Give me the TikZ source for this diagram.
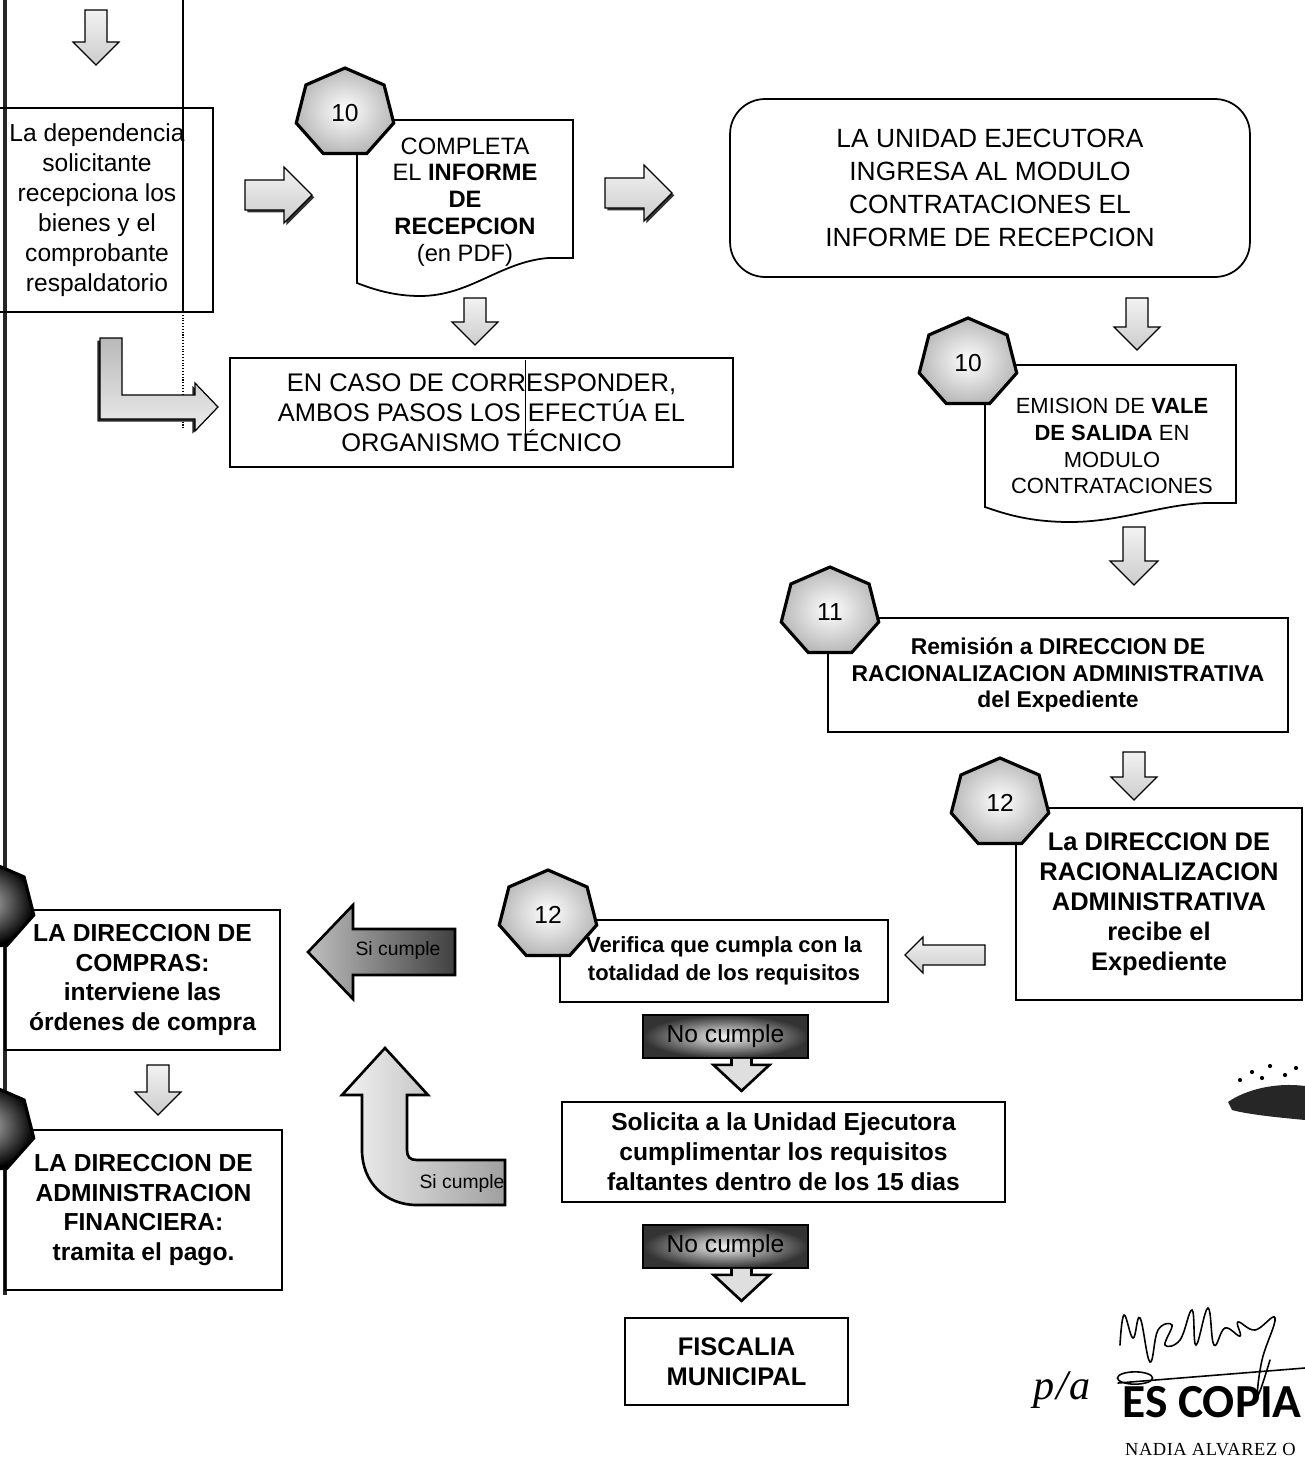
\documentclass[tikz,border=0pt]{standalone}
\usepackage{fontspec}
\setmainfont{Liberation Sans}
\newfontfamily\stampfont{Carlito}
\newfontfamily\namefont[LetterSpace=3]{Liberation Serif}
\usetikzlibrary{shadows}
% block arrow: [style]{x}{y}{angle}{length}{shaft half}{head half}
\newcommand{\barrow}[7][]{\draw[blockarrow,#1,shift={(#2,#3)},rotate=#4]
  (-#6,0) -- (#6,0) -- (#6,{#5-#7}) -- (#7,{#5-#7}) -- (0,#5)
  -- (-#7,{#5-#7}) -- (-#6,{#5-#7}) -- cycle;}
% heptagon with step number
\newcommand{\hepta}[5][heptfill]{\draw[#1] plot[samples at={0,...,6}]
  ({#3+50*cos(90+\x*360/7)},{#4-45*sin(90+\x*360/7)}) -- cycle;
  \node[numtext] (#2) at (#3,#4) {#5};}
\begin{document}
\begin{tikzpicture}[x=0.02cm,y=-0.02cm,
  box/.style={draw,line width=1pt,align=center,inner sep=0pt,font=\fontsize{14}{17}\selectfont},
  bbox/.style={box,font=\bfseries\fontsize{14}{17}\selectfont},
  doctext/.style={align=center,inner sep=0pt,font=\fontsize{13.5}{15.3}\selectfont},
  docline/.style={line width=1pt,fill=white},
  numtext/.style={inner sep=0pt,font=\fontsize{14}{14}\selectfont},
  heptfill/.style={line width=1.8pt,inner color=white,outer color=gray!55},
  hept dark/.style={line width=1.8pt,inner color=gray!55,outer color=black},
  blockarrow/.style={draw,line width=0.7pt,top color=gray!10,bottom color=gray!40},
  shadowarrow/.style={drop shadow={shadow xshift=1.3pt,shadow yshift=-1.3pt,opacity=1,fill=black!80}},
  darkarrow/.style={draw,line width=1.5pt,left color=gray!50,middle color=gray!8,right color=black!75},
  nocumple/.style={draw,line width=1pt,inner color=gray!10,outer color=black!80,
    font=\fontsize{14}{14}\selectfont,minimum width=3.3cm,minimum height=0.86cm},
  nohead/.style={draw,line width=1.5pt,fill=gray!25},
  sicumple/.style={inner sep=0pt,font=\fontsize{11}{11}\selectfont},
  sig/.style={line width=0.9pt,line cap=round}]
\useasboundingbox (0,0) rectangle (1305,1465);
\fill[white] (0,0) rectangle (1305,1465);

% page border and old column line
\draw[line width=2pt,black!85] (5,0) -- (5,1295);
\draw[line width=0.6pt] (183,0) -- (183,312);
\draw[line width=0.6pt,densely dotted] (183,312) -- (183,430);

% top row
\barrow{96}{10}{0}{55}{11}{23}
\node[box,minimum width=4.64cm,minimum height=4.08cm] (recibe) at (97,210) {La dependencia\\solicitante\\recepciona los\\bienes y el\\comprobante\\respaldatorio};
\barrow[shadowarrow]{245}{195}{90}{67}{15}{28}
\draw[docline] (357,120) -- (357,283) .. controls (375,290) and (395,296) .. (420,296)
  .. controls (470,296) and (500,262) .. (548,258) -- (573,258) -- (573,120) -- cycle;
\node[doctext] (informe) at (465,202) {COMPLETA\\EL \textbf{INFORME}\\\textbf{DE}\\\textbf{RECEPCION}\\(en PDF)};
\hepta{n10a}{345}{113}{10}
\barrow[shadowarrow]{605}{193}{90}{67}{15}{28}
\node[box,rounded corners=0.7cm,minimum width=10.4cm,minimum height=3.56cm,font=\fontsize{15}{18.7}\selectfont] (unidad) at (990,188) {LA UNIDAD EJECUTORA\\INGRESA AL MODULO\\CONTRATACIONES EL\\INFORME DE RECEPCION};
\barrow{475}{298}{0}{47}{11}{23}

% L arrow to the technical body
\draw[blockarrow,top color=gray!55,bottom color=gray!15,drop shadow={shadow xshift=-1.5pt,shadow yshift=-1.5pt,opacity=1,fill=black!85}]
  (100,338) -- (122,338) -- (122,395) -- (195,395) -- (195,383) -- (218,407) -- (195,431) -- (195,419) -- (100,419) -- cycle;
\node[box,minimum width=10.06cm,minimum height=2.18cm,font=\fontsize{14.5}{17}\selectfont] (caso) at (481.5,412.5) {EN CASO DE CORRESPONDER,\\AMBOS PASOS LOS EFECTÚA EL\\ORGANISMO TÉCNICO};
\draw[line width=0.5pt] (525,360) -- (525,440);

% right column
\barrow{1137}{298}{0}{52}{11}{23}
\draw[docline] (985,365) -- (985,507) .. controls (1005,514) and (1030,522) .. (1070,522)
  .. controls (1120,522) and (1160,505) .. (1205,503) -- (1236,503) -- (1236,365) -- cycle;
\node[doctext,font=\fontsize{12.5}{15.3}\selectfont] (vale) at (1112,446) {EMISION DE \textbf{VALE}\\\textbf{DE SALIDA} EN\\MODULO\\CONTRATACIONES};
\hepta{n10b}{968}{363}{10}
\barrow{1134}{527}{0}{58}{11}{24}
\node[bbox,minimum width=9.2cm,minimum height=2.28cm,font=\bfseries\fontsize{13}{15.3}\selectfont] (remision) at (1058,675) {Remisión a DIRECCION DE\\RACIONALIZACION ADMINISTRATIVA\\del Expediente};
\hepta{n11}{830}{612}{11}
\barrow{1134}{752}{0}{48}{11}{23}
\node[bbox,minimum width=5.72cm,minimum height=3.84cm,font=\bfseries\fontsize{14.5}{17}\selectfont] (racional) at (1159,904) {La DIRECCION DE\\RACIONALIZACION\\ADMINISTRATIVA\\recibe el\\Expediente};
\hepta{n12a}{1000}{803}{12}

% verification
\barrow{985}{955}{-90}{80}{10}{18}
\node[bbox,minimum width=6.56cm,minimum height=1.64cm,font=\bfseries\fontsize{12.5}{15.8}\selectfont] (verifica) at (724,961) {Verifica que cumpla con la\\totalidad de los requisitos};
\hepta{n12b}{548}{915}{12}
\draw[darkarrow] (308,952) -- (353,905) -- (353,929) -- (455,929) -- (455,975) -- (353,975) -- (353,999) -- cycle;
\node[sicumple] (si1) at (398,950) {Si cumple};

% left column bottom
\node[bbox,minimum width=5.5cm,minimum height=2.8cm] (compras) at (142.5,980) {LA DIRECCION DE\\COMPRAS:\\interviene las\\órdenes de compra};
\barrow{158}{1065}{0}{50}{11}{23}
\node[bbox,minimum width=5.54cm,minimum height=3.2cm] (pago) at (143.5,1210) {LA DIRECCION DE\\ADMINISTRACION\\FINANCIERA:\\tramita el pago.};
\begin{scope}
\clip (0,0) rectangle (1305,1465);
\hepta[hept dark]{n13}{-15}{905}{}
\hepta[hept dark]{n14}{-15}{1128}{}
\end{scope}

% U-turn back
\draw[darkarrow,left color=gray!10,middle color=gray!20,right color=gray!75]
  (385,1048) -- (428,1095) -- (407,1095) -- (407,1150) .. controls (407,1157) and (410,1160) .. (417,1160)
  -- (505,1160) -- (505,1205) -- (417,1205) .. controls (385,1205) and (362,1182) .. (362,1150)
  -- (362,1095) -- (342,1095) -- cycle;
\node[sicumple] (si2) at (462,1183) {Si cumple};

% not compliant branch
\node[nocumple] (no1) at (725.5,1036.5) {No cumple};
\draw[nohead,shift={(no1.south)}] (6,0) -- (6,6) -- (-12,6) -- (16,32) -- (44,6) -- (26,6) -- (26,0);
\node[bbox,minimum width=8.86cm,minimum height=2cm] (solicita) at (783.5,1152) {Solicita a la Unidad Ejecutora\\cumplimentar los requisitos\\faltantes dentro de los 15 dias};
\node[nocumple] (no2) at (725.5,1246.5) {No cumple};
\draw[nohead,shift={(no2.south)}] (6,0) -- (6,6) -- (-12,6) -- (16,32) -- (44,6) -- (26,6) -- (26,0);
\node[bbox,minimum width=4.46cm,minimum height=1.74cm,font=\bfseries\fontsize{14.5}{17}\selectfont] (fiscalia) at (736.5,1361.5) {FISCALIA\\MUNICIPAL};

% stamp and signature
\fill[black!85] (1228,1102) .. controls (1245,1090) and (1275,1082) .. (1305,1086) -- (1305,1120)
  .. controls (1285,1118) and (1250,1115) .. (1232,1110) -- cycle;
\foreach \p in {(1240,1080),(1252,1072),(1262,1078),(1270,1066),(1285,1075),(1296,1068)}
  \fill \p circle[radius=1.2pt];
\draw[sig] (1118,1383) -- (1305,1368);
\draw[sig] plot[smooth,tension=0.7] coordinates {(1120,1345) (1124,1315) (1133,1338) (1140,1318) (1150,1362)
  (1158,1330) (1172,1325) (1165,1345) (1180,1340) (1192,1310) (1196,1345) (1208,1308) (1214,1345)
  (1225,1328) (1240,1336) (1238,1322) (1255,1330) (1275,1318) (1262,1360) (1258,1395) (1270,1360)};
\draw[sig] (1135,1378) ellipse [x radius=10pt,y radius=3.5pt];
\node[font=\namefont\itshape\fontsize{24}{24}\selectfont] (pa) at (1062,1390) {p/a};
\node[font=\stampfont\bfseries\fontsize{27}{27}\selectfont] (copia) at (1212,1402) {ES COPIA};
\node[font=\namefont\fontsize{10.5}{10.5}\selectfont,anchor=east] (nadia) at (1302,1450) {NADIA ALVAREZ O};
\end{tikzpicture}
\end{document}
